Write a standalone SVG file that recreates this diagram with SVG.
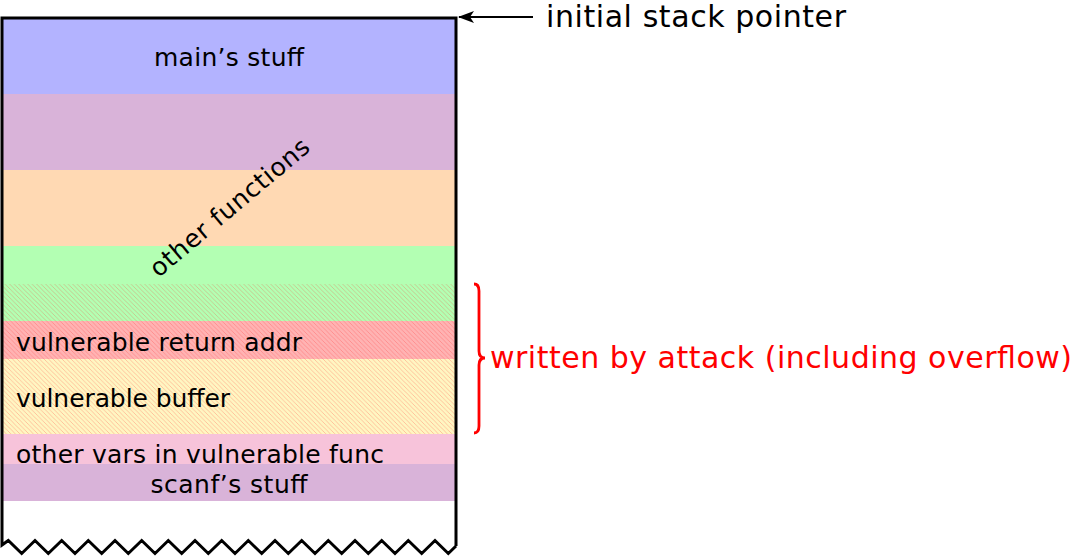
<svg xmlns="http://www.w3.org/2000/svg" width="1078" height="557" viewBox="0 0 1078 557">
<style>
.lbl{font-family:"DejaVu Sans",sans-serif;font-size:25px;fill:#000}
.big{font-family:"DejaVu Sans",sans-serif;font-size:30px}
</style>
<defs>
<pattern id="hatch" patternUnits="userSpaceOnUse" width="4.5" height="4.5">
<path d="M-1,-1 L5.5,5.5 M-1,3.5 L1,5.5 M3.5,-1 L5.5,1" stroke="#ff2020" stroke-width="0.6" stroke-opacity="0.4"/>
</pattern>
<marker id="arr" markerWidth="16" markerHeight="14" refX="15" refY="7" orient="auto" markerUnits="userSpaceOnUse">
<path d="M0,1 L16,7 L0,13 L4,7 Z" fill="#000"/>
</marker>
</defs>
<rect width="1078" height="557" fill="#fff"/>
<g id="main"><rect x="2" y="18" width="454" height="76" fill="#b3b3ff"/><text class="lbl" x="229" y="66" text-anchor="middle" textLength="150">main’s stuff</text></g>
<g id="other1"><rect x="2" y="94" width="454" height="76" fill="#d9b3d9"/></g>
<g id="other2"><rect x="2" y="170" width="454" height="76" fill="#ffd9b3"/></g>
<g id="other3"><rect x="2" y="246" width="454" height="75" fill="#b3ffb3"/><rect x="2" y="284" width="454" height="37" fill="url(#hatch)"/></g>
<g id="otherlabel"><text class="lbl" transform="translate(235,214) rotate(-40)" text-anchor="middle" textLength="200">other functions</text></g>
<g id="retaddr"><rect x="2" y="321" width="454" height="38" fill="#ffb3b3"/><rect x="2" y="321" width="454" height="38" fill="url(#hatch)"/><text class="lbl" x="16" y="351" textLength="286">vulnerable return addr</text></g>
<g id="buffer"><rect x="2" y="359" width="454" height="75" fill="#fff6c2"/><rect x="2" y="359" width="454" height="75" fill="url(#hatch)"/><text class="lbl" x="16" y="407" textLength="214">vulnerable buffer</text></g>
<g id="othervars"><rect x="2" y="434" width="454" height="30" fill="#f7c3da"/><text class="lbl" x="16" y="463" textLength="368">other vars in vulnerable func</text></g>
<g id="scanf"><rect x="2" y="464" width="454" height="37" fill="#d9b3d9"/><text class="lbl" x="229" y="493" text-anchor="middle" textLength="157">scanf’s stuff</text></g>
<g id="frame"><path d="M456,546 L456,18 L2,18 L2,545 L8.3,540.5 L21.7,553.5 L35,540.5 L48.3,553.5 L61.7,540.5 L75,553.5 L88.3,540.5 L101.7,553.5 L115,540.5 L128.3,553.5 L141.7,540.5 L155,553.5 L168.3,540.5 L181.7,553.5 L195,540.5 L208.3,553.5 L221.7,540.5 L235,553.5 L248.3,540.5 L261.7,553.5 L275,540.5 L288.3,553.5 L301.7,540.5 L315,553.5 L328.3,540.5 L341.7,553.5 L355,540.5 L368.3,553.5 L381.7,540.5 L395,553.5 L408.3,540.5 L421.7,553.5 L435,540.5 L448.3,553.5 L456,546" fill="none" stroke="#000" stroke-width="3" stroke-linejoin="miter"/></g>
<g id="connectors">
<line x1="533" y1="17" x2="459" y2="17" stroke="#000" stroke-width="2.2" marker-end="url(#arr)"/>
<path d="M474,284 Q479,284 479,291 L479,351 Q479,358 485,358 Q479,358 479,365 L479,426 Q479,433 474,433" fill="none" stroke="#ff0000" stroke-width="2.8"/>
</g>
<g id="labels">
<text class="big" x="546" y="27" fill="#000" textLength="300">initial stack pointer</text>
<text class="big" x="490" y="368" fill="#ff0000" textLength="582">written by attack (including overflow)</text>
</g>
</svg>
